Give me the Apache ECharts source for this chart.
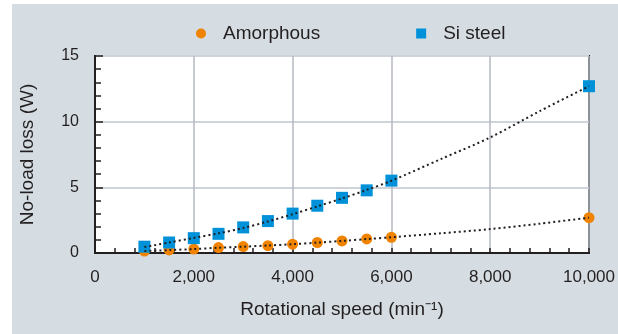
<!DOCTYPE html>
<html>
<head>
<meta charset="utf-8">
<script src="https://cdn.jsdelivr.net/npm/echarts@6/dist/echarts.min.js"></script>
<style>
  html, body { margin: 0; padding: 0; background: #fff; }
  #chart { width: 618px; height: 334px; }
</style>
</head>
<body>
<div id="chart"></div>
<script>
// measured points (rotational speed, min-1)
var speeds = [1000, 1500, 2000, 2500, 3000, 3500, 4000, 4500, 5000, 5500, 6000, 10000];
var amorphous = [0.15, 0.23, 0.3, 0.41, 0.49, 0.56, 0.67, 0.8, 0.92, 1.07, 1.2, 2.69];
var siSteel = [0.48, 0.8, 1.13, 1.46, 1.95, 2.43, 3.0, 3.6, 4.2, 4.77, 5.51, 12.7];

// dotted trend curves
var trendSpeeds = [1000, 1500, 2000, 2500, 3000, 3500, 4000, 4500, 5000, 5500, 6000, 7000, 8000, 9000, 10000];
var amorphousTrend = [0.15, 0.22, 0.3, 0.4, 0.48, 0.57, 0.67, 0.79, 0.92, 1.06, 1.2, 1.5, 1.82, 2.23, 2.69];
var siSteelTrend = [0.45, 0.8, 1.15, 1.5, 1.9, 2.4, 2.95, 3.55, 4.15, 4.8, 5.5, 7.15, 8.8, 10.8, 12.7];

var textColor = '#231f20';

function pairs(xs, ys) {
  return xs.map(function (x, i) { return [x, ys[i]]; });
}

var myChart = echarts.init(document.getElementById('chart'));

var option = {
  animation: false,
  graphic: [{
    type: 'rect',
    left: 12, top: 4,
    shape: { width: 606, height: 330 },
    style: { fill: '#d5dde2' },
    z: -10
  }],
  legend: {
    data: [
      { name: 'Amorphous', icon: 'circle' },
      { name: 'Si steel', icon: 'rect' }
    ],
    left: 191,
    top: 19,
    itemWidth: 10,
    itemHeight: 10,
    itemGap: 96,
    textStyle: {
      color: textColor,
      fontSize: 19,
      fontFamily: 'Liberation Sans',
      padding: [0, 0, 0, 12]
    }
  },
  grid: {
    left: 95, top: 56, right: 29, bottom: 81,
    show: true,
    backgroundColor: '#fff',
    borderColor: textColor,
    borderWidth: 2
  },
  xAxis: {
    type: 'value',
    min: 0, max: 10000, interval: 2000,
    name: 'Rotational speed (min\u207B\u00B9)',
    nameLocation: 'middle',
    nameGap: 47,
    nameTextStyle: { color: textColor, fontSize: 19, fontFamily: 'Liberation Sans' },
    axisLine: { lineStyle: { color: textColor, width: 2 } },
    axisTick: { inside: true, length: 5, lineStyle: { color: textColor, width: 1.5 } },
    minorTick: { show: true, splitNumber: 5, length: 5, lineStyle: { color: textColor, width: 1.5 } },
    splitLine: { show: true, lineStyle: { color: '#b4b9c0', width: 1.5 } },
    axisLabel: {
      color: textColor, fontSize: 17, fontFamily: 'Liberation Sans', margin: 16,
      formatter: function (v) { return v.toLocaleString('en-US'); }
    }
  },
  yAxis: {
    type: 'value',
    min: 0, max: 15, interval: 5,
    name: 'No-load loss (W)',
    nameLocation: 'middle',
    nameGap: 58,
    nameTextStyle: { color: textColor, fontSize: 19, fontFamily: 'Liberation Sans' },
    axisLine: { show: true, lineStyle: { color: textColor, width: 2 } },
    axisTick: { show: true, inside: true, length: 8, lineStyle: { color: textColor, width: 1.5 } },
    minorTick: { show: true, splitNumber: 5, length: 6, lineStyle: { color: textColor, width: 1.5 } },
    splitLine: { show: true, lineStyle: { color: '#cfd4da', width: 2 } },
    axisLabel: { color: textColor, fontSize: 16, fontFamily: 'Liberation Sans', margin: 16 }
  },
  series: [
    {
      name: 'Amorphous',
      type: 'scatter',
      symbol: 'circle',
      symbolSize: 11,
      itemStyle: { color: '#f08300', opacity: 1 },
      data: pairs(speeds, amorphous),
      z: 2
    },
    {
      name: 'Si steel',
      type: 'scatter',
      symbol: 'rect',
      symbolSize: 12,
      itemStyle: { color: '#0091d9', opacity: 1 },
      data: pairs(speeds, siSteel),
      z: 2
    },
    {
      name: 'Amorphous trend',
      type: 'line',
      smooth: 0.3,
      showSymbol: false,
      lineStyle: { color: textColor, width: 2, type: [2, 3] },
      data: pairs(trendSpeeds, amorphousTrend),
      z: 3
    },
    {
      name: 'Si steel trend',
      type: 'line',
      smooth: 0.3,
      showSymbol: false,
      lineStyle: { color: textColor, width: 2, type: [2, 3] },
      data: pairs(trendSpeeds, siSteelTrend),
      z: 3
    }
  ]
};

myChart.setOption(option);
</script>
</body>
</html>
